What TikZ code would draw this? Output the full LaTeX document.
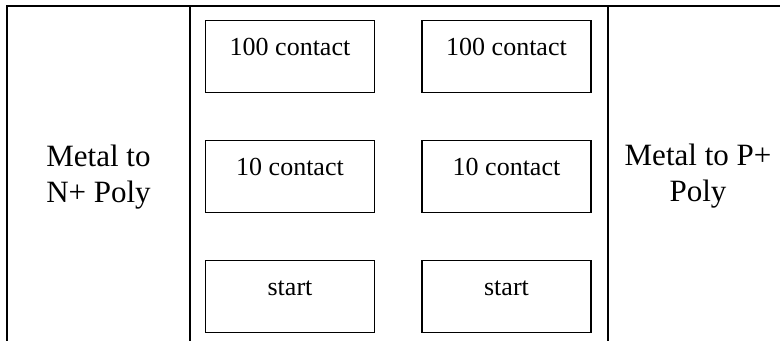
\documentclass[tikz,border=0pt]{standalone}
\usepackage{fontspec}
\setmainfont{Liberation Serif}
\begin{document}
\begin{tikzpicture}[x=0.5pt,y=-0.5pt,
  frame/.style={line width=1.2pt,line cap=rect},
  cellbox/.style={draw,line width=0.65pt,minimum width=84.5pt,
    inner xsep=0pt,inner ysep=0pt,text height=17.5pt,text depth=18.5pt,
    font=\fontsize{13}{15.6}\selectfont},
  sidetext/.style={align=center,anchor=base,
    font=\fontsize{15.5}{18}\selectfont}]
  \useasboundingbox (0,0) rectangle (780,341);
  % table rules
  \coordinate (tl) at (7,6);
  \coordinate (tr) at (780,6);
  \coordinate (bl) at (7,341);
  \coordinate (m1t) at (190,6);
  \coordinate (m1b) at (190,341);
  \coordinate (m2t) at (608,6);
  \coordinate (m2b) at (608,341);
  \draw[frame] (bl) -- (tl) -- (tr);
  \draw[frame] (m1t) -- (m1b);
  \draw[frame] (m2t) -- (m2b);
  % side labels (anchored on the baseline of the last line)
  \node[sidetext] (nlabel) at (98.5,203) {Metal to\\N+ Poly};
  \node[sidetext] (plabel) at (698,201.5) {Metal to P+\\Poly};
  % contact chains
  \node[cellbox,anchor=north] (a1) at (290,20) {100 contact};
  \node[cellbox,anchor=north] (a2) at (290,140) {10 contact};
  \node[cellbox,anchor=north] (a3) at (290,260) {start};
  \node[cellbox,anchor=north] (b1) at (506.5,20) {100 contact};
  \node[cellbox,anchor=north] (b2) at (506.5,140) {10 contact};
  \node[cellbox,anchor=north] (b3) at (506.5,260) {start};
\end{tikzpicture}
\end{document}
